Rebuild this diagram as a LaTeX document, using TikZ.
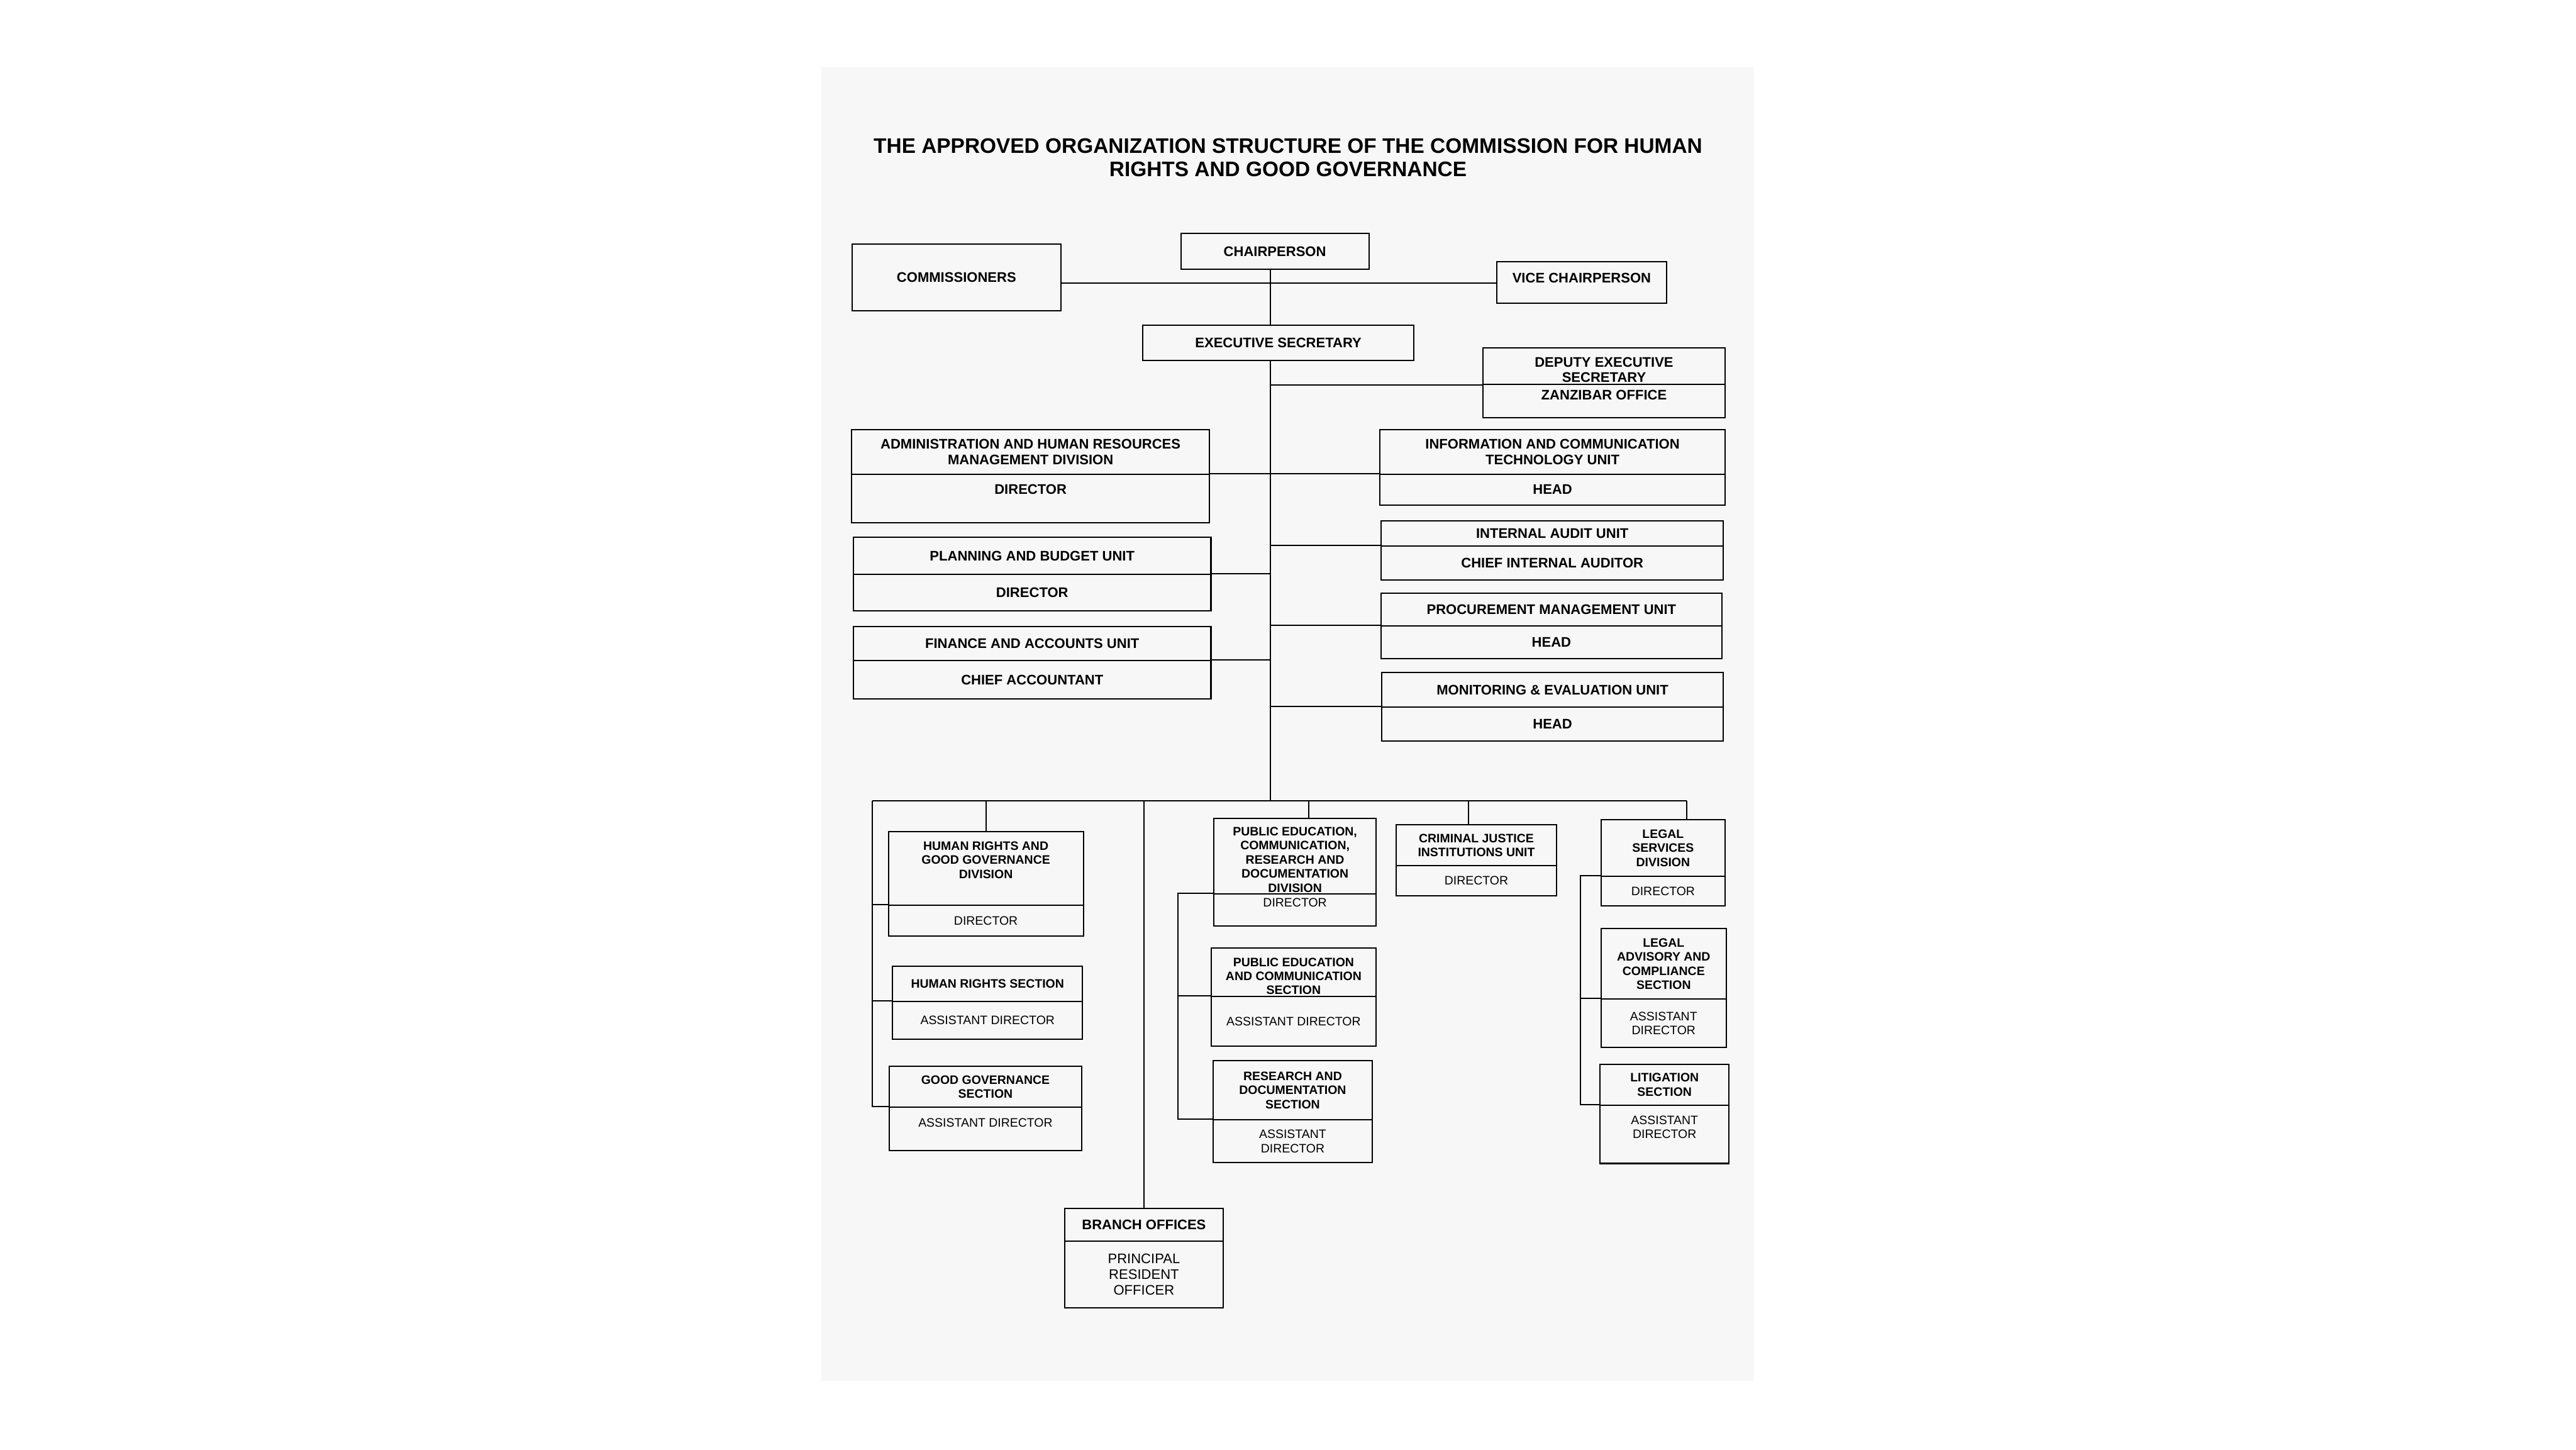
\documentclass[tikz,border=0pt]{standalone}
\usepackage{fontspec}
\setmainfont{Liberation Sans}
\usepackage{xcolor}
\usepackage{tikz}
\usetikzlibrary{positioning, calc}

\definecolor{pagegray}{RGB}{247,247,247}
\newcommand{\padlow}[1]{\rule[-#1]{0pt}{#1}}
\newcommand{\padhigh}[1]{\rule{0pt}{#1}}

\begin{document}
\begin{tikzpicture}[
    x=0.25mm, y=-0.25mm, line width=0.55pt,
    box/.style={rectangle, draw, line width=0.55pt, inner sep=0.5pt, align=center, font=\fontsize{6}{7}\selectfont\bfseries},
    sbox/.style={box, font=\fontsize{5.3}{6.1}\selectfont\bfseries},
    srole/.style={box, font=\fontsize{5.3}{6.1}\selectfont},
    wh/.style 2 args={minimum width=#1*0.25mm, minimum height=#2*0.25mm}
]

\useasboundingbox (0,0) rectangle (1568,882);
\fill[white] (0,0) rectangle (1568,882);
\fill[pagegray] (500,41) rectangle (1067.5,840.3);

\node[font=\fontsize{9.1}{10}\selectfont\bfseries, align=center] (title) at (784,95.8) {THE APPROVED ORGANIZATION STRUCTURE OF THE COMMISSION FOR HUMAN\\RIGHTS AND GOOD GOVERNANCE};

% Top: chairperson, commissioners, executive secretary
\node[box, wh={114.4}{22}] (chair) at (776,152.9) {CHAIRPERSON};
\node[box, wh={127}{40.3}] (comm) at (582.2,168.85) {COMMISSIONERS};
\node[box, wh={103.5}{25.1}] (vice) at (962.75,171.85) {VICE CHAIRPERSON\padlow{3.8pt}};
\node[box, wh={165}{21.4}] (exec) at (778.1,208.7) {EXECUTIVE SECRETARY};
\coordinate (tr) at (773.3,487.3);
\coordinate (cv) at (773.3,172.3);
\draw (comm.east |- cv) -- (vice.west |- cv);
\draw (chair.south -| tr) -- (exec.north -| tr);
\draw (exec.south -| tr) -- (tr);

\node[box, wh={147.3}{22.2}, font=\fontsize{6}{6.5}\selectfont\bfseries] (dept) at (976.35,222.7) {\padhigh{7.6pt}DEPUTY EXECUTIVE\\SECRETARY};
\node[box, wh={147.3}{20.4}] (depd) at (976.35,244) {ZANZIBAR OFFICE\padlow{5.5pt}};
\draw (dept.south west -| tr) -- (dept.south west);

% Left units
\node[box, wh={217.8}{27}] (admt) at (627.3,275) {ADMINISTRATION AND HUMAN RESOURCES\\MANAGEMENT DIVISION};
\node[box, wh={217.8}{29.5}] (admd) at (627.3,303.25) {DIRECTOR\padlow{7.8pt}};
\node[box, wh={217.6}{22.5}] (plant) at (628.3,338.25) {PLANNING AND BUDGET UNIT};
\node[box, wh={217.6}{22.2}] (pland) at (628.3,360.6) {DIRECTOR};
\node[box, wh={217.6}{20.7}] (fint) at (628.3,391.65) {FINANCE AND ACCOUNTS UNIT};
\node[box, wh={217.6}{23.2}] (find) at (628.3,413.6) {CHIEF ACCOUNTANT};

% Right units
\node[box, wh={210}{27}] (ictt) at (945,275) {INFORMATION AND COMMUNICATION\\TECHNOLOGY UNIT};
\node[box, wh={210}{18.8}] (ictd) at (945,297.9) {HEAD};
\node[box, wh={208.3}{15.3}] (iat) at (944.85,324.65) {INTERNAL AUDIT UNIT};
\node[box, wh={208.3}{20.7}] (iad) at (944.85,342.65) {CHIEF INTERNAL AUDITOR};
\node[box, wh={207.3}{20}] (prt) at (944.35,371) {PROCUREMENT MANAGEMENT UNIT};
\node[box, wh={207.3}{19.9}] (prd) at (944.35,390.95) {HEAD};
\node[box, wh={208}{21.1}] (met) at (945,419.75) {MONITORING \& EVALUATION UNIT};
\node[box, wh={208}{20.6}] (med) at (945,440.6) {HEAD};

\draw (admd.north east) -- (ictd.north west);
\draw (pland.north east) -- (pland.north east -| tr);
\draw (find.north east) -- (find.north east -| tr);
\draw (iad.north west) -- (iad.north west -| tr);
\draw (prd.north west) -- (prd.north west -| tr);
\draw (med.north west) -- (med.north west -| tr);

% Bottom bus
\coordinate (busl) at (530.8,487.3);
\coordinate (busr) at (1026.6,487.3);
\draw (busl) -- (busr);

% Human rights and good governance
\node[sbox, wh={118.6}{45}] (hrgt) at (600.1,528.5) {HUMAN RIGHTS AND\\GOOD GOVERNANCE\\DIVISION\padlow{7.5pt}};
\node[srole, wh={118.6}{18.6}] (hrgd) at (600.1,560.3) {DIRECTOR};
\node[sbox, wh={115.8}{21.5}] (hrst) at (601.1,598.75) {HUMAN RIGHTS SECTION};
\node[srole, wh={115.8}{22.8}] (hrsd) at (601.1,620.9) {ASSISTANT DIRECTOR};
\node[sbox, wh={116.9}{24.9}] (ggst) at (599.85,661.35) {GOOD GOVERNANCE\\SECTION};
\node[srole, wh={116.9}{26.5}] (ggsd) at (599.85,687.05) {ASSISTANT DIRECTOR\padlow{5.7pt}};
\draw (hrgt.north |- busl) -- (hrgt.north);
\draw (busl) |- (ggsd.north west);
\draw (hrgd.north west -| busl) -- (hrgd.north west);
\draw (hrsd.north west -| busl) -- (hrsd.north west);

% Branch offices
\node[box, wh={96.3}{19.7}] (brt) at (696.3,745.25) {BRANCH OFFICES};
\node[box, wh={96.3}{40.8}, font=\fontsize{6}{6.8}\selectfont] (brd) at (696.3,775.5) {PRINCIPAL\\RESIDENT\\OFFICER};
\draw (brt.north |- busl) -- (brt.north);

% Public education division
\coordinate (pdrop) at (796.7,487.3);
\coordinate (prail) at (717,487.3);
\node[sbox, wh={98.5}{45.9}] (pet) at (788.25,520.95) {\padhigh{6.8pt}PUBLIC EDUCATION,\\COMMUNICATION,\\RESEARCH AND\\DOCUMENTATION\\DIVISION};
\node[srole, wh={98.5}{19.6}] (ped) at (788.25,553.7) {DIRECTOR\padlow{6.3pt}};
\node[sbox, wh={100.2}{29.4}] (pecst) at (787.4,591.7) {\padhigh{7pt}PUBLIC EDUCATION\\AND COMMUNICATION\\SECTION};
\node[srole, wh={100.2}{30.1}] (pecsd) at (787.4,621.45) {ASSISTANT DIRECTOR};
\node[sbox, wh={96.9}{36.1}] (rdst) at (786.85,663.45) {RESEARCH AND\\DOCUMENTATION\\SECTION};
\node[srole, wh={96.9}{26}] (rdsd) at (786.85,694.5) {ASSISTANT\\DIRECTOR};
\draw (pdrop) -- (pdrop |- pet.north);
\draw (ped.north west) -- (ped.north west -| prail) |- (rdsd.north west);
\draw (pecsd.north west -| prail) -- (pecsd.north west);

% Criminal justice
\coordinate (cdrop) at (893.8,487.3);
\node[sbox, wh={97.3}{24.9}] (cjt) at (898.65,514.35) {CRIMINAL JUSTICE\\INSTITUTIONS UNIT};
\node[srole, wh={97.3}{18.2}] (cjd) at (898.65,535.9) {DIRECTOR};
\draw (cdrop) -- (cdrop |- cjt.north);

% Legal services
\coordinate (lrail) at (962,487.3);
\node[sbox, wh={75.4}{34.5}] (lst) at (1012.3,516.05) {LEGAL\\SERVICES\\DIVISION};
\node[srole, wh={75.4}{18.1}] (lsd) at (1012.3,542.35) {DIRECTOR};
\node[sbox, wh={76.1}{43}] (lact) at (1012.65,586.5) {LEGAL\\ADVISORY AND\\COMPLIANCE\\SECTION};
\node[srole, wh={76.1}{29.4}] (lacd) at (1012.65,622.7) {ASSISTANT\\DIRECTOR};
\node[sbox, wh={78.4}{25}] (litt) at (1013.2,660.1) {LITIGATION\\SECTION};
\node[srole, wh={78.4}{35.4}] (litd) at (1013.2,690.3) {ASSISTANT\\DIRECTOR\padlow{6.3pt}};
\draw (busr) -- (busr |- lst.north);
\draw (lsd.north west) -- (lsd.north west -| lrail) |- (litd.north west);
\draw (lacd.north west -| lrail) -- (lacd.north west);

\end{tikzpicture}
\end{document}
